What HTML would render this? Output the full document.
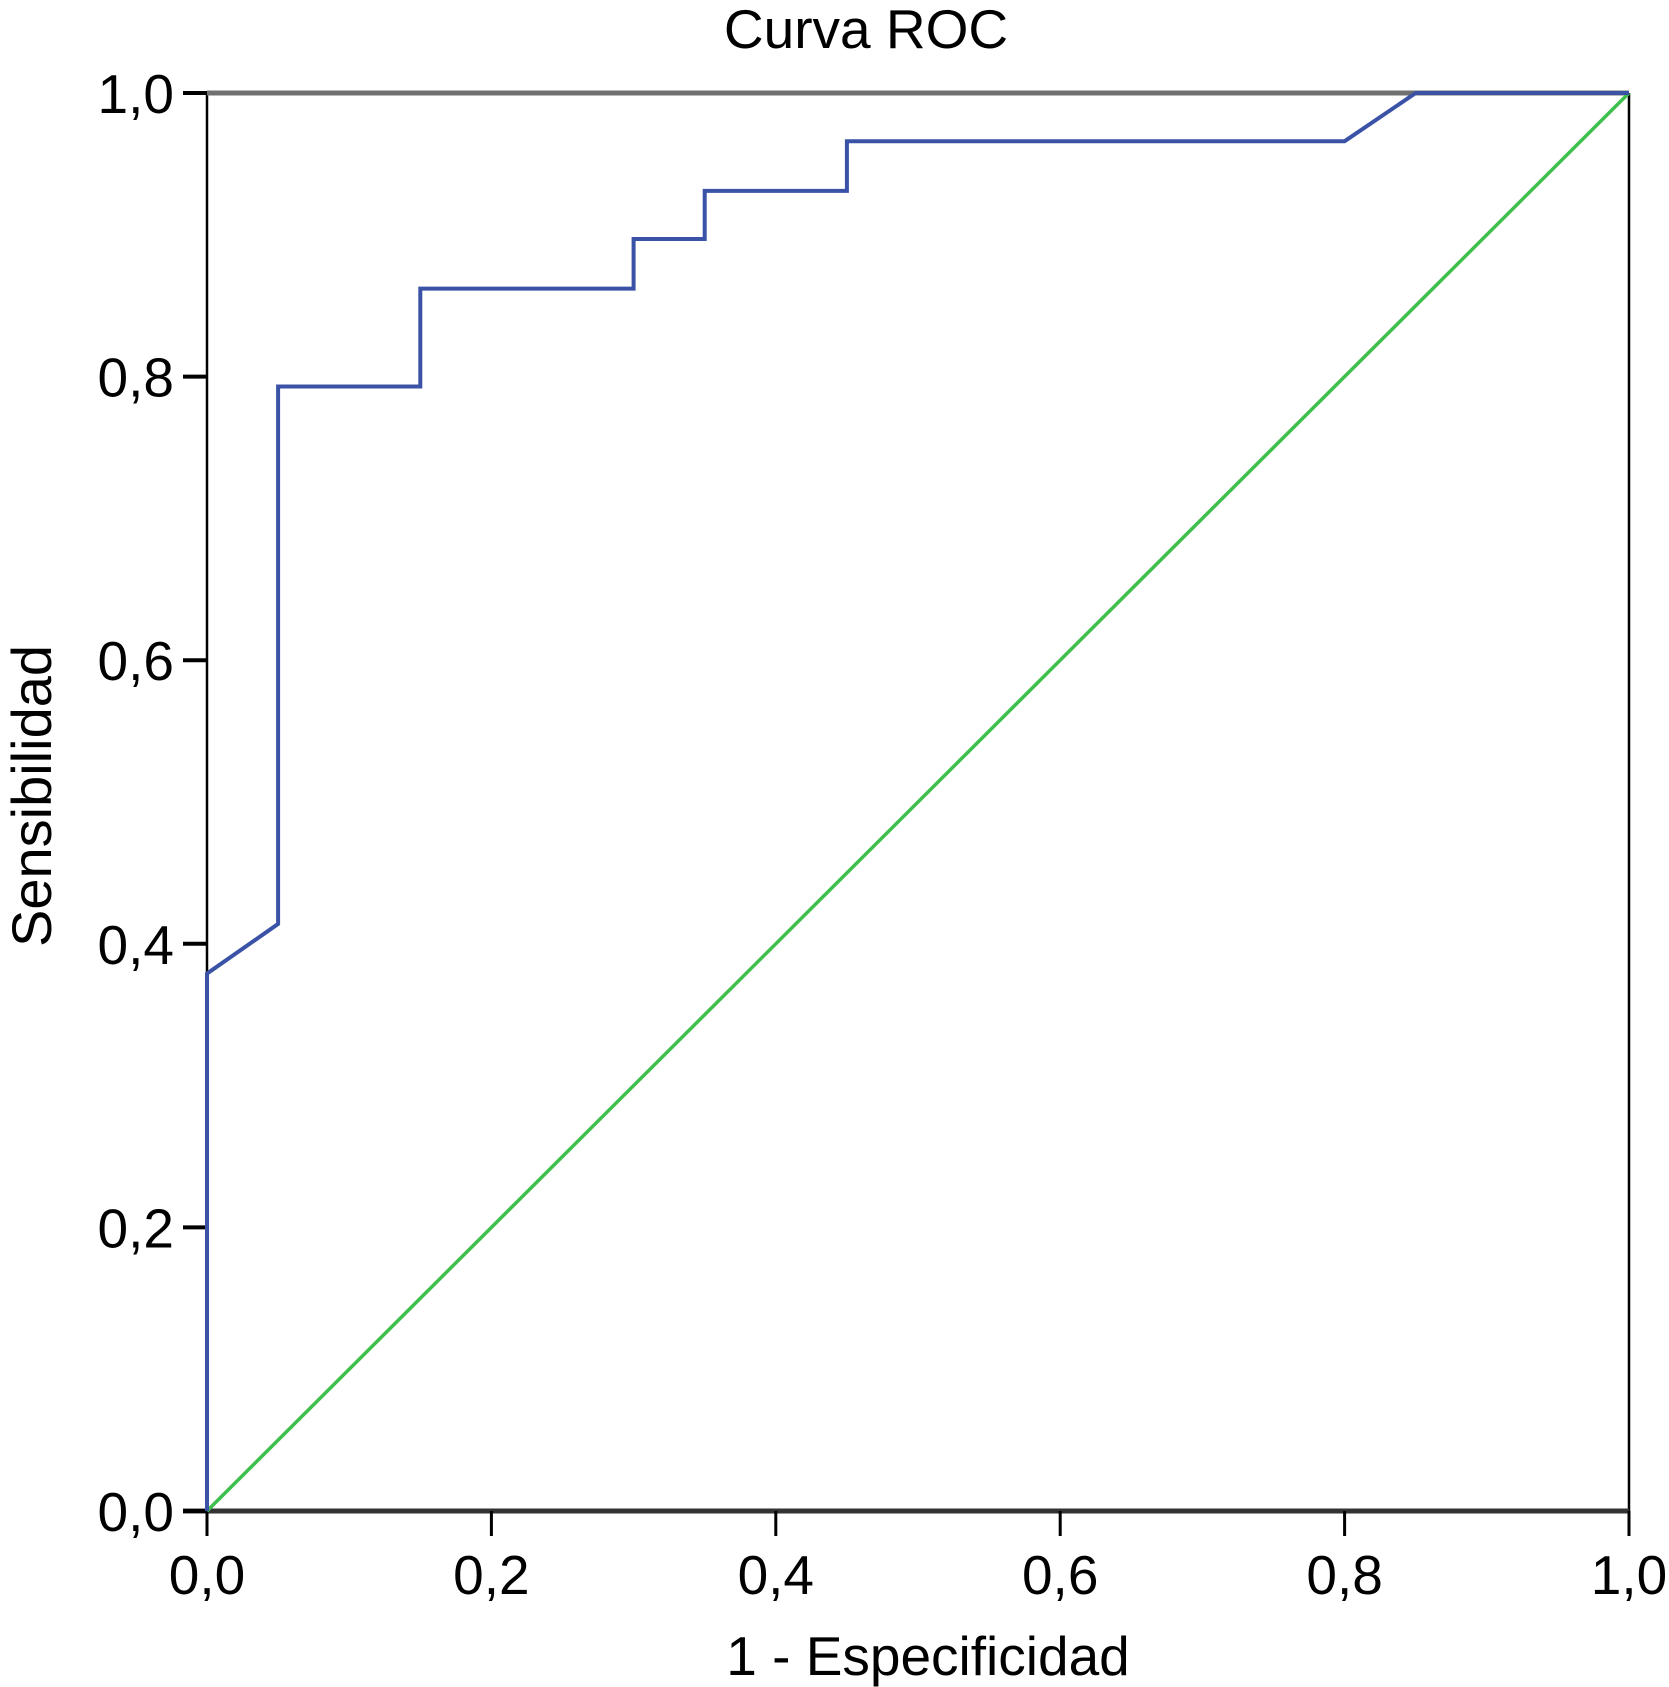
<!DOCTYPE html>
<html><head><meta charset="utf-8">
<style>
html,body{margin:0;padding:0;background:#fff;}
svg{display:block;font-family:"Liberation Sans",Arial,sans-serif;}
</style></head>
<body>
<svg id="chart" width="1669" height="1687" viewBox="0 0 1669 1687" xmlns="http://www.w3.org/2000/svg">
<rect width="1669" height="1687" fill="#fff"/>
<text x="866" y="48" font-size="55" text-anchor="middle" fill="#000">Curva ROC</text>
<text transform="translate(51,796) rotate(-90)" font-size="56" text-anchor="middle" fill="#000">Sensibilidad</text>
<text x="928" y="1675" font-size="55" text-anchor="middle" fill="#000">1 - Especificidad</text>
<g id="plot"></g>
</svg>
<script>
const rocX = [0, 0, 0.05, 0.05, 0.15, 0.15, 0.30, 0.30, 0.35, 0.35, 0.45, 0.45, 0.80, 0.85, 1.0];
const rocY = [0, 0.379, 0.414, 0.793, 0.793, 0.862, 0.862, 0.897, 0.897, 0.931, 0.931, 0.966, 0.966, 1.0, 1.0];
const refX = [0, 1];
const refY = [0, 1];
const tickValues = [0, 0.2, 0.4, 0.6, 0.8, 1.0];
const tickLabels = ["0,0", "0,2", "0,4", "0,6", "0,8", "1,0"];

const L = 207, R = 1629, T = 93, B = 1511;
function sx(v){ return L + v * (R - L); }
function sy(v){ return B - v * (B - T); }
const NS = "http://www.w3.org/2000/svg";
const g = document.getElementById('plot');
function mk(tag, attrs){
  const e = document.createElementNS(NS, tag);
  for (const k in attrs) e.setAttribute(k, attrs[k]);
  g.appendChild(e);
  return e;
}

let e = mk('line', {x1:L, y1:T, x2:L, y2:B, stroke:'#000', 'stroke-width':2.5});


e = mk('line', {x1:R, y1:T, x2:R, y2:B, stroke:'#000', 'stroke-width':2.5});


e = mk('line', {x1:L, y1:T, x2:R, y2:T, stroke:'#707070', 'stroke-width':5});


e = mk('line', {x1:L-24, y1:B, x2:R, y2:B, stroke:'#333', 'stroke-width':5});



tickValues.forEach((v, i) => {
  let t = mk('line', {x1:sx(v), y1:B, x2:sx(v), y2:B+25, stroke:'#000', 'stroke-width':3});
  
  
  let tx = mk('text', {x:sx(v), y:1594, 'font-size':55, 'text-anchor':'middle', fill:'#000'});
  tx.textContent = tickLabels[i];
  
  
  let ty = mk('line', {x1:L-24, y1:sy(v), x2:L, y2:sy(v), stroke:'#000', 'stroke-width':4});
  
  
  let tl = mk('text', {x:174, y:sy(v)+20, 'font-size':55, 'text-anchor':'end', fill:'#000'});
  tl.textContent = tickLabels[i];
  
  
});

let ref = mk('polyline', {points: refX.map((x,i)=>sx(x)+','+sy(refY[i])).join(' '), fill:'none', stroke:'#3fbf4c', 'stroke-width':3.5});



let roc = mk('polyline', {points: rocX.map((x,i)=>sx(x)+','+sy(rocY[i])).join(' '), fill:'none', stroke:'#3b53a6', 'stroke-width':4});


</script>
</body></html>
